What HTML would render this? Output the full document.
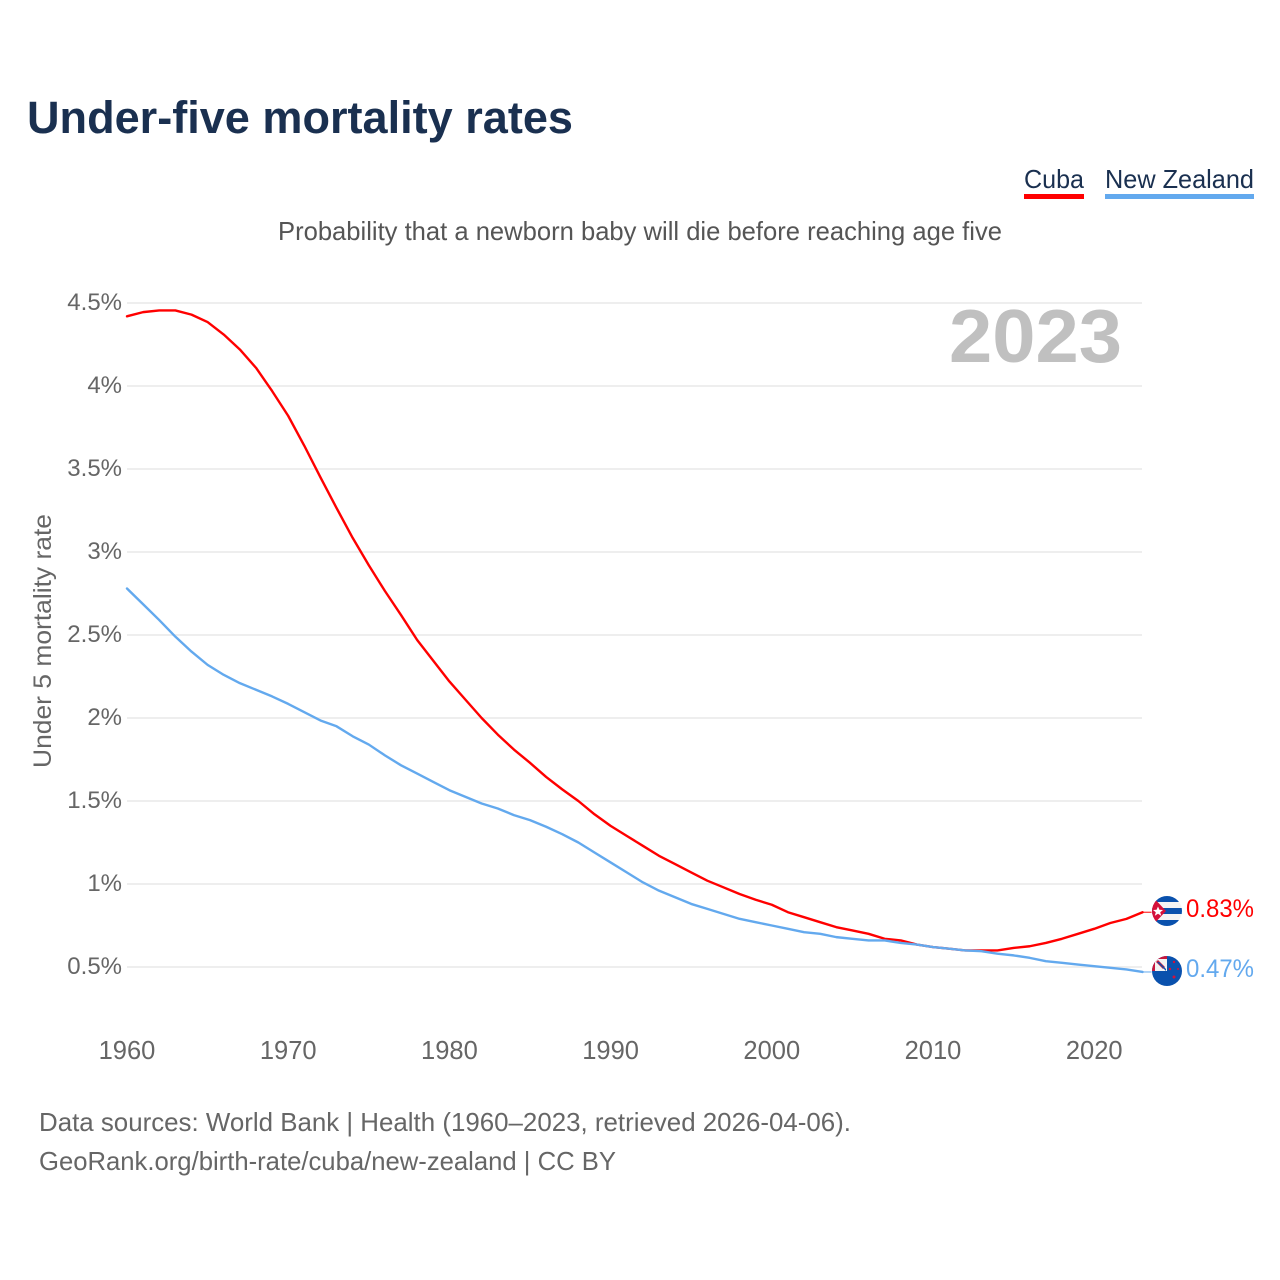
<!DOCTYPE html>
<html lang="en">
<head>
<meta charset="utf-8">
<title>Under-five mortality rates</title>
<style>
html,body{margin:0;padding:0;background:#fff;}
svg{display:block;font-family:"Liberation Sans",sans-serif;}
</style>
</head>
<body>
<svg id="chart" xmlns="http://www.w3.org/2000/svg" width="1280" height="1280" viewBox="0 0 1280 1280">
  <defs>
    <clipPath id="clip-cuba"><circle cx="1167" cy="911" r="15"/></clipPath>
    <clipPath id="clip-nz"><circle cx="1167" cy="971" r="15"/></clipPath>
  </defs>
  <rect width="1280" height="1280" fill="#fff"/>
  <text x="27" y="133" font-size="45" font-weight="700" fill="#1a3050" textLength="546" lengthAdjust="spacingAndGlyphs">Under-five mortality rates</text>
  <g>
    <text x="1024" y="188" font-size="26" fill="#1a3050" textLength="60" lengthAdjust="spacingAndGlyphs">Cuba</text>
    <rect x="1024" y="194" width="60" height="5" fill="#ff0000"/>
  </g>
  <g>
    <text x="1105" y="188" font-size="26" fill="#1a3050" textLength="149" lengthAdjust="spacingAndGlyphs">New Zealand</text>
    <rect x="1105" y="194" width="149" height="5" fill="#63a9ee"/>
  </g>
  <text x="278" y="240" font-size="26" fill="#555" textLength="724" lengthAdjust="spacingAndGlyphs">Probability that a newborn baby will die before reaching age five</text>
  <text transform="translate(51,768) rotate(-90)" font-size="25" fill="#666" textLength="254" lengthAdjust="spacingAndGlyphs">Under 5 mortality rate</text>
  <g id="grid"></g>
  <g id="y-ticks"></g>
  <g id="x-ticks"></g>
  <text x="1122" y="362" font-size="75" font-weight="700" fill="#c0c0c0" text-anchor="end" textLength="173" lengthAdjust="spacingAndGlyphs">2023</text>
  <g id="series"></g>

  <g clip-path="url(#clip-cuba)">
    <rect x="1152" y="896" width="30" height="30" fill="#f4f4f4"/>
    <rect x="1152" y="896" width="30" height="6" fill="#0a51ad"/>
    <rect x="1152" y="908" width="30" height="6" fill="#0a51ad"/>
    <rect x="1152" y="920" width="30" height="6" fill="#0a51ad"/>
    <polygon points="1152,896 1166,911 1152,926" fill="#d5103a"/>
    <polygon points="1158,906.5 1159.4,909.8 1163,910 1160.2,912.3 1161.2,915.8 1158,913.8 1154.8,915.8 1155.8,912.3 1153,910 1156.6,909.8" fill="#fff"/>
  </g>
  <g clip-path="url(#clip-nz)">
    <rect x="1152" y="956" width="30" height="30" fill="#0a51ad"/>
    <rect x="1152" y="956" width="15" height="15" fill="#c8163c"/>
    <rect x="1155" y="959" width="12" height="12" fill="#f2f2f2"/>
    <polygon points="1158,960 1165,967 1163,969 1156,962" fill="#c8163c"/>
    <polygon points="1159,962 1166,969 1166,971 1157,962" fill="#0a51ad"/>
    <circle cx="1174" cy="962" r="1.2" fill="#d5103a"/>
    <circle cx="1170" cy="969" r="1.2" fill="#d5103a"/>
    <circle cx="1178" cy="969" r="1" fill="#d5103a"/>
    <circle cx="1174" cy="977" r="1.5" fill="#d5103a"/>
  </g>
  <text x="1186" y="917" font-size="25" fill="#ff0000" textLength="68" lengthAdjust="spacingAndGlyphs">0.83%</text>
  <text x="1186" y="977" font-size="25" fill="#63a9ee" textLength="68" lengthAdjust="spacingAndGlyphs">0.47%</text>

  <text x="39" y="1131" font-size="26" fill="#666" textLength="812" lengthAdjust="spacingAndGlyphs">Data sources: World Bank | Health (1960–2023, retrieved 2026-04-06).</text>
  <text x="39" y="1170" font-size="26" fill="#666" textLength="577" lengthAdjust="spacingAndGlyphs">GeoRank.org/birth-rate/cuba/new-zealand | CC BY</text>
</svg>
<script>
var startYear = 1960;
var yTickValues = [0.5, 1, 1.5, 2, 2.5, 3, 3.5, 4, 4.5];
var yTickLabels = ["0.5%", "1%", "1.5%", "2%", "2.5%", "3%", "3.5%", "4%", "4.5%"];
var xTickYears = [1960, 1970, 1980, 1990, 2000, 2010, 2020];
var cubaValues = [4.42,4.445,4.455,4.455,4.43,4.385,4.31,4.22,4.11,3.97,3.82,3.64,3.45,3.265,3.085,2.92,2.765,2.62,2.47,2.345,2.22,2.11,2.0,1.9,1.81,1.73,1.645,1.57,1.5,1.42,1.35,1.29,1.23,1.17,1.12,1.07,1.02,0.98,0.94,0.905,0.875,0.83,0.80,0.77,0.74,0.72,0.70,0.67,0.66,0.635,0.62,0.61,0.60,0.60,0.60,0.615,0.625,0.645,0.67,0.70,0.73,0.765,0.79,0.83];
var newZealandValues = [2.78,2.685,2.59,2.49,2.40,2.32,2.26,2.21,2.17,2.13,2.085,2.035,1.985,1.95,1.89,1.84,1.775,1.715,1.665,1.615,1.565,1.525,1.485,1.455,1.415,1.385,1.345,1.30,1.25,1.19,1.13,1.07,1.01,0.96,0.92,0.88,0.85,0.82,0.79,0.77,0.75,0.73,0.71,0.70,0.68,0.67,0.66,0.66,0.645,0.635,0.62,0.61,0.60,0.595,0.58,0.57,0.555,0.535,0.525,0.515,0.505,0.495,0.485,0.47];

var SVG_NS = 'http://www.w3.org/2000/svg';
function xScale(year) { return 127 + (year - 1960) * 16.12; }
function yScale(value) { return 967 - (value - 0.5) * 166; }
function make(tag, attrs, parent) {
  var el = document.createElementNS(SVG_NS, tag);
  for (var k in attrs) { el.setAttribute(k, attrs[k]); }
  parent.appendChild(el);
  return el;
}
var gridGroup = document.getElementById('grid');
var yTickGroup = document.getElementById('y-ticks');
var xTickGroup = document.getElementById('x-ticks');
var seriesGroup = document.getElementById('series');

yTickValues.forEach(function (v, i) {
  var line = make('line', {x1: 127, x2: 1142, y1: yScale(v), y2: yScale(v), stroke: '#eeeeee', 'stroke-width': 2}, gridGroup);
  
  
  var label = make('text', {x: 122, y: yScale(v) + 7, 'font-size': 24, fill: '#666', 'text-anchor': 'end'}, yTickGroup);
  label.textContent = yTickLabels[i];
  
  
});

xTickYears.forEach(function (year) {
  var label = make('text', {x: xScale(year), y: 1059, 'font-size': 25.5, fill: '#666', 'text-anchor': 'middle'}, xTickGroup);
  label.textContent = String(year);
  
  
});

function drawSeries(values, color, name) {
  var pts = values.map(function (v, i) {
    return xScale(startYear + i).toFixed(2) + ',' + yScale(v).toFixed(2);
  });
  var line = make('polyline', {points: pts.join(' '), fill: 'none', stroke: color, 'stroke-width': 2.4, 'stroke-linejoin': 'round', 'stroke-linecap': 'round'}, seriesGroup);
  
  
  var last = yScale(values[values.length - 1]);
  var lastX = xScale(startYear + values.length - 1);
  var lead = make('line', {x1: lastX, x2: lastX + 9, y1: last, y2: last, stroke: color, 'stroke-width': 1}, seriesGroup);
  
  
}
drawSeries(cubaValues, '#ff0000', 'line-cuba');
drawSeries(newZealandValues, '#63a9ee', 'line-new-zealand');
</script>
</body>
</html>
